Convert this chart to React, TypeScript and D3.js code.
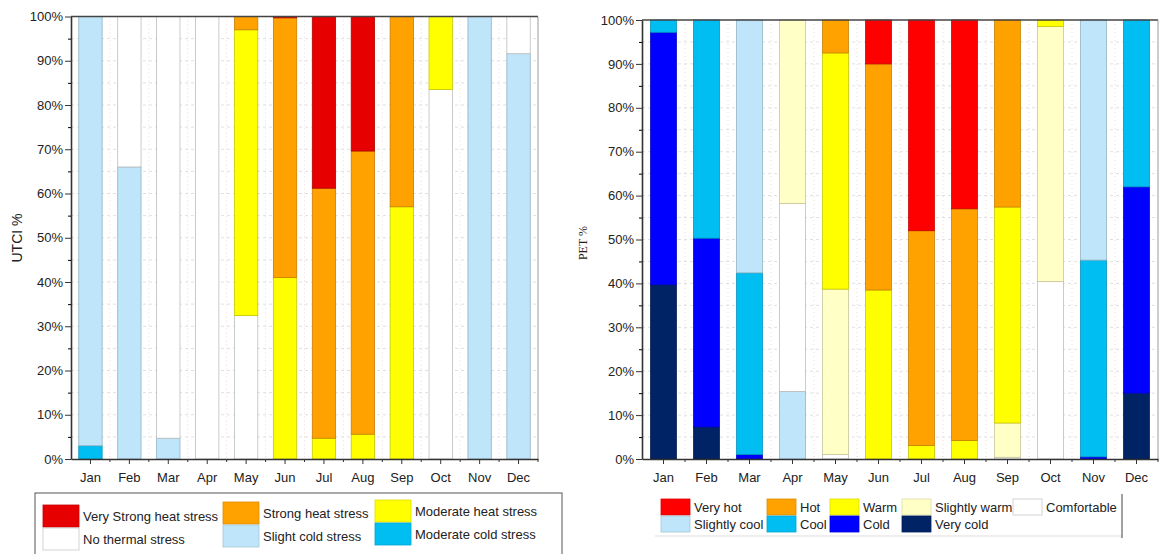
import React, { useRef, useEffect } from "react";
import * as d3 from "d3";

const months = ["Jan", "Feb", "Mar", "Apr", "May", "Jun", "Jul", "Aug", "Sep", "Oct", "Nov", "Dec"];
const yTicks = [0, 10, 20, 30, 40, 50, 60, 70, 80, 90, 100];

// UTCI classes, stacked bottom -> top
const utciKeys = ["Moderate cold stress", "Slight cold stress", "No thermal stress", "Moderate heat stress", "Strong heat stress", "Very Strong heat stress"];
const utciColors = ["#00bef2", "#bee5f9", "#ffffff", "#ffff00", "#ffa200", "#e60000"];
const utciModerateCold = [3, 0, 0, 0, 0, 0, 0, 0, 0, 0, 0, 0];
const utciSlightCold = [97, 66, 4.7, 0, 0, 0, 0, 0, 0, 0, 100, 91.6];
const utciNoThermal = [0, 34, 95.3, 100, 32.4, 0, 0, 0, 0, 83.5, 0, 8.4];
const utciModerateHeat = [0, 0, 0, 0, 64.6, 41, 4.7, 5.6, 57, 16.5, 0, 0];
const utciStrongHeat = [0, 0, 0, 0, 3, 58.7, 56.5, 64, 43, 0, 0, 0];
const utciVeryStrongHeat = [0, 0, 0, 0, 0, 0.3, 38.8, 30.4, 0, 0, 0, 0];
const utciLegendRows = [
    ["Very Strong heat stress", "Strong heat stress", "Moderate heat stress"],
    ["No thermal stress", "Slight cold stress", "Moderate cold stress"]
];

// PET classes, stacked bottom -> top
const petKeys = ["Very cold", "Cold", "Cool", "Slightly cool", "Comfortable", "Slightly warm", "Warm", "Hot", "Very hot"];
const petColors = ["#002366", "#0000ff", "#00bef2", "#bee5f9", "#ffffff", "#ffffc6", "#ffff00", "#ffa200", "#ff0000"];
const petVeryCold = [39.7, 7.3, 0, 0, 0, 0, 0, 0, 0, 0, 0, 15];
const petCold = [57.5, 43, 1, 0, 0, 0, 0, 0, 0, 0, 0.5, 47];
const petCool = [2.8, 49.7, 41.4, 0, 0, 0, 0, 0, 0, 0, 44.8, 38];
const petSlightlyCool = [0, 0, 57.6, 15.4, 0, 0, 0, 0, 0, 0, 54.7, 0];
const petComfortable = [0, 0, 0, 42.8, 1, 0, 0, 0, 0.4, 40.4, 0, 0];
const petSlightlyWarm = [0, 0, 0, 41.8, 37.7, 0, 0, 0, 7.8, 58.1, 0, 0];
const petWarm = [0, 0, 0, 0, 53.8, 38.5, 3.1, 4.2, 49.2, 1.5, 0, 0];
const petHot = [0, 0, 0, 0, 7.5, 51.5, 48.9, 52.8, 42.6, 0, 0, 0];
const petVeryHot = [0, 0, 0, 0, 0, 10, 48, 43, 0, 0, 0, 0];
const petLegendRows = [
    ["Very hot", "Hot", "Warm", "Slightly warm", "Comfortable"],
    ["Slightly cool", "Cool", "Cold", "Very cold"]
];

const sans = "'Liberation Sans', Arial, sans-serif";

const buildRows = (keys, series) =>
    months.map((m, i) => {
        const row = { month: m };
        keys.forEach((k, j) => { row[k] = series[j][i]; });
        return row;
    });

const drawPanel = (svg, cfg) => {
    const x = d3.scaleBand().domain(months).range([cfg.x0, cfg.x1]).paddingInner(0.4).paddingOuter(0.2);
    const y = d3.scaleLinear().domain([0, 100]).range([cfg.yBottom, cfg.yTop]);
    const g = svg.append("g");

    // faint grid
    g.selectAll(".hgrid")
        .data(d3.range(5, 100, 5))
        .enter()
        .append("line")
        .attr("x1", cfg.x0).attr("x2", cfg.x1)
        .attr("y1", d => y(d)).attr("y2", d => y(d))
        .attr("stroke", "#e0e0e0")
        .attr("stroke-dasharray", "3,3");

    const bounds = d3.range(1, months.length).map(i => cfg.x0 + i * x.step());
    g.selectAll(".vgrid")
        .data(bounds)
        .enter()
        .append("line")
        .attr("x1", d => d).attr("x2", d => d)
        .attr("y1", cfg.yTop).attr("y2", cfg.yBottom)
        .attr("stroke", "#f5d6d6")
        .attr("stroke-dasharray", "1,3");

    const color = d3.scaleOrdinal().domain(cfg.keys).range(cfg.colors);
    const stacked = d3.stack().keys(cfg.keys)(cfg.rows);

    stacked.forEach(layer => {
        const c = color(layer.key);
        g.append("g")
            .selectAll("rect")
            .data(layer.filter(d => d[1] - d[0] > 0))
            .enter()
            .append("rect")
            .attr("x", d => x(d.data.month))
            .attr("width", x.bandwidth())
            .attr("y", d => y(d[1]))
            .attr("height", d => y(d[0]) - y(d[1]))
            .attr("fill", c)
            .attr("stroke", c === "#ffffff" ? "#bdbdbd" : d3.color(c).darker(0.7).formatHex())
            .attr("stroke-width", 0.8);
    });

    // frame
    g.append("line")
        .attr("x1", cfg.x0).attr("x2", cfg.x1)
        .attr("y1", cfg.yTop).attr("y2", cfg.yTop)
        .attr("stroke", "#444").attr("stroke-width", 1.5);
    g.append("line")
        .attr("x1", cfg.x1).attr("x2", cfg.x1)
        .attr("y1", cfg.yTop).attr("y2", cfg.yBottom)
        .attr("stroke", "#9a9a9a").attr("stroke-width", 1);

    // y axis
    const yAxis = g.append("g")
        .attr("transform", `translate(${cfg.x0},0)`)
        .call(d3.axisLeft(y).tickValues(yTicks).tickFormat(d => d + "%").tickSize(6).tickSizeOuter(0).tickPadding(2));
    g.append("g")
        .attr("transform", `translate(${cfg.x0},0)`)
        .call(d3.axisLeft(y).tickValues(d3.range(5, 100, 10)).tickFormat(() => "").tickSize(3).tickSizeOuter(0))
        .select(".domain").remove();

    // x axis
    const xAxis = g.append("g")
        .attr("transform", `translate(0,${cfg.yBottom})`)
        .call(d3.axisBottom(x).tickSize(5).tickSizeOuter(0).tickPadding(9));
    g.selectAll(".xminor")
        .data(bounds.concat([cfg.x1]))
        .enter()
        .append("line")
        .attr("x1", d => d).attr("x2", d => d)
        .attr("y1", cfg.yBottom).attr("y2", cfg.yBottom + 3)
        .attr("stroke", "#333");

    [yAxis, xAxis].forEach(a => {
        a.selectAll("text").style("font-family", sans).style("font-size", "13px").attr("fill", "#222");
        a.selectAll("line").attr("stroke", "#333");
        a.select(".domain").attr("stroke", "#333").attr("stroke-width", 1.6);
    });

    svg.append("text")
        .attr("transform", `translate(${cfg.labelX},${cfg.labelY}) rotate(-90)`)
        .attr("text-anchor", "middle")
        .style("font-family", cfg.labelFont)
        .style("font-size", cfg.labelSize)
        .attr("fill", "#222")
        .text(cfg.label);

    return color;
};

const drawLegend = (svg, color, rows, cfg) => {
    rows.forEach((row, r) => {
        row.forEach((key, i) => {
            const dy = cfg.colDy[i] || 0;
            const sx = cfg.colX[i];
            const sy = cfg.rowY[r] + dy;
            const c = color(key);
            svg.append("rect")
                .attr("x", sx).attr("y", sy)
                .attr("width", cfg.sw).attr("height", cfg.sh)
                .attr("fill", c)
                .attr("stroke", c === "#ffffff" ? "#c8c8c8" : d3.color(c).darker(0.4).formatHex())
                .attr("stroke-width", 0.8);
            svg.append("text")
                .attr("x", sx + cfg.sw + cfg.gap)
                .attr("y", sy + cfg.sh / 2 + 4.5)
                .style("font-family", sans)
                .style("font-size", "13px")
                .attr("fill", "#222")
                .text(key);
        });
    });
};

const App = () => {
    const svgRef = useRef(null);

    useEffect(() => {
        if (!svgRef.current) return;
        svgRef.current.innerHTML = "";
        const svg = d3.select(svgRef.current);

        const utciRows = buildRows(utciKeys, [utciModerateCold, utciSlightCold, utciNoThermal, utciModerateHeat, utciStrongHeat, utciVeryStrongHeat]);
        const petRows = buildRows(petKeys, [petVeryCold, petCold, petCool, petSlightlyCool, petComfortable, petSlightlyWarm, petWarm, petHot, petVeryHot]);

        const utciColor = drawPanel(svg, {
            rows: utciRows, keys: utciKeys, colors: utciColors,
            x0: 71, x1: 538, yTop: 16.5, yBottom: 459,
            label: "UTCI %", labelX: 22, labelY: 238, labelFont: sans, labelSize: "14px"
        });
        const petColor = drawPanel(svg, {
            rows: petRows, keys: petKeys, colors: petColors,
            x0: 642, x1: 1158, yTop: 20, yBottom: 459,
            label: "PET %", labelX: 587, labelY: 243, labelFont: "'Liberation Serif', 'DejaVu Serif', serif", labelSize: "12px"
        });

        // left legend box
        svg.append("rect")
            .attr("x", 35).attr("y", 493)
            .attr("width", 527).attr("height", 70)
            .attr("fill", "none").attr("stroke", "#555").attr("stroke-width", 1);
        drawLegend(svg, utciColor, utciLegendRows, {
            colX: [43, 223, 375], colDy: [0, -3, -5], rowY: [505, 528],
            sw: 36, sh: 22, gap: 4
        });

        // right legend frame
        svg.append("line")
            .attr("x1", 655).attr("x2", 1122).attr("y1", 536).attr("y2", 536)
            .attr("stroke", "#ddd");
        svg.append("line")
            .attr("x1", 1122).attr("x2", 1122).attr("y1", 494).attr("y2", 538)
            .attr("stroke", "#444");
        drawLegend(svg, petColor, petLegendRows, {
            colX: [661, 767, 830, 902, 1013], colDy: [], rowY: [499, 516],
            sw: 29, sh: 16, gap: 4
        });
    }, []);

    return (
        <svg
            ref={svgRef}
            width={1162}
            height={554}
            style={{ position: "absolute", left: 0, top: 0, background: "#fff" }}
        />
    );
};

export default App;
